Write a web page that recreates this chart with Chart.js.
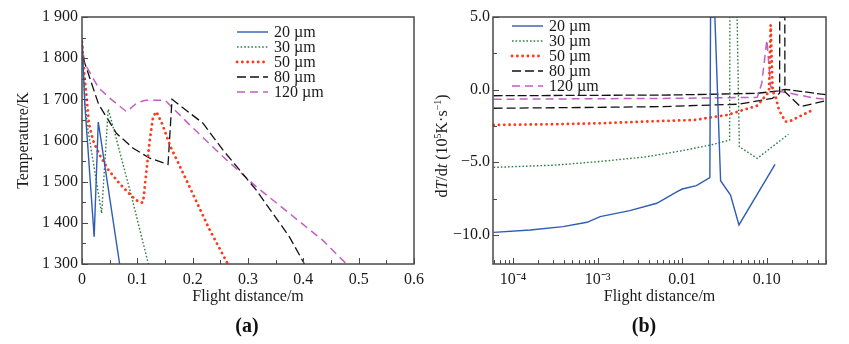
<!DOCTYPE html>
<html><head><meta charset="utf-8">
<script src="https://cdn.jsdelivr.net/npm/chart.js@4"></script>
<style>
html,body{margin:0;padding:0;background:#fff;}
#wrap{position:relative;width:849px;height:344px;overflow:hidden;background:#fff;}
#chartA{position:absolute;left:0;top:0;}
#chartB{position:absolute;left:425px;top:0;}
.lab{position:absolute;top:312px;font:bold 20px 'Liberation Serif',serif;width:60px;text-align:center;line-height:26px;color:#111;}
</style></head><body>
<div id="wrap">
<canvas id="chartA" width="430" height="344"></canvas>
<canvas id="chartB" width="424" height="344"></canvas>
<div class="lab" style="left:217px">(a)</div>
<div class="lab" style="left:614px">(b)</div>
</div>
<script>
// ---------- names ----------
const seriesNames = ['20 µm', '30 µm', '50 µm', '80 µm', '120 µm'];

// ---------- panel (a): temperature vs flight distance ----------
const aX20 = [0, 0.005, 0.022, 0.0294, 0.068];
const aT20 = [1845, 1690, 1366, 1645, 1300];
const aX30 = [0, 0.0054, 0.0108, 0.0355, 0.0474, 0.0595, 0.0895, 0.12];
const aT30 = [1830, 1691, 1626, 1423, 1676, 1617, 1464, 1300];
const aX50 = [0, 0.0042, 0.0084, 0.0126, 0.02, 0.03, 0.047, 0.065, 0.083, 0.098, 0.108, 0.1105, 0.1166, 0.1225, 0.1285, 0.1345, 0.145, 0.16, 0.19, 0.23, 0.2636];
const aT50 = [1840, 1760, 1703, 1640, 1600, 1570, 1530, 1500, 1474, 1455, 1449, 1451, 1528, 1601, 1658, 1670, 1640, 1585, 1500, 1385, 1300];
const aX80 = [0.002, 0.03, 0.0625, 0.0925, 0.1225, 0.1555, 0.1627, 0.2186, 0.2546, 0.3147, 0.3748, 0.402];
const aT80 = [1800, 1688, 1617, 1581, 1557, 1542, 1700, 1642, 1577, 1480, 1366, 1300];
const aX120 = [0, 0.004, 0.01, 0.03, 0.05, 0.0805, 0.1, 0.115, 0.15, 0.1946, 0.2546, 0.3147, 0.3748, 0.4348, 0.478];
const aT120 = [1840, 1792, 1775, 1728, 1703, 1670, 1692, 1698, 1698, 1638, 1561, 1488, 1423, 1358, 1300];

const aXTicks = [0, 0.1, 0.2, 0.3, 0.4, 0.5, 0.6];
const aXTickLabels = ['0', '0.1', '0.2', '0.3', '0.4', '0.5', '0.6'];
const aXMinor = [0.05, 0.15, 0.25, 0.35, 0.45, 0.55];
const aYTicks = [1300, 1400, 1500, 1600, 1700, 1800, 1900];
const aYTickLabels = ['1 300', '1 400', '1 500', '1 600', '1 700', '1 800', '1 900'];
const aYMinor = [1350, 1450, 1550, 1650, 1750, 1850];

// ---------- panel (b): cooling rate vs flight distance (log x) ----------
const bX20 = [5.9e-5, 1.6e-4, 3.9e-4, 7.5e-4, 1.07e-3, 2.4e-3, 5.0e-3, 8.7e-3, 0.01, 0.0147, 0.0212, 0.0216, 0.0243, 0.0284, 0.0372, 0.0468, 0.125];
const bR20 = [-9.82, -9.66, -9.43, -9.13, -8.74, -8.33, -7.82, -7.02, -6.84, -6.61, -6.06, 5, 5, -6.27, -7.25, -9.31, -5.14];
const bX30 = [5.9e-5, 3e-4, 1e-3, 3.8e-3, 0.01, 0.0216, 0.0363, 0.0366, 0.0445, 0.0473, 0.077, 0.18];
const bR30 = [-5.35, -5.2, -4.96, -4.62, -4.2, -3.81, -3.47, 5, 5, -3.93, -4.73, -3.07];
const bX50 = [5.9e-5, 3e-4, 1e-3, 5.5e-3, 0.0137, 0.034, 0.077, 0.106, 0.111, 0.117, 0.127, 0.139, 0.166, 0.183, 0.346];
const bR50 = [-2.43, -2.38, -2.32, -2.16, -2.09, -1.74, -1.1, -0.14, 4.45, -0.1, -0.49, -1.4, -2.2, -2.2, -1.4];
const bX80 = [5.9e-5, 1e-3, 5.5e-3, 0.0468, 0.116, 0.1415, 0.142, 0.163, 0.1635, 0.25, 0.5];
const bR80 = [-1.28, -1.22, -1.17, -1.0, -0.6, -0.25, 5, 5, -0.14, -1.17, -0.76];
const bX120 = [5.9e-5, 7.3e-3, 0.077, 0.087, 0.1, 0.111, 0.136, 0.38, 0.5];
const bR120 = [-0.66, -0.6, -0.53, 0.44, 3.42, 0.2, -0.09, -0.6, -0.66];
const bXUpper = [5.9e-5, 7.3e-3, 0.077, 0.136, 0.165, 0.5];
const bRUpper = [-0.42, -0.37, -0.25, -0.09, 0.02, -0.35];

const bXTicks = [1e-4, 1e-3, 1e-2, 1e-1];
const bXTickLabels = ['10⁻⁴', '10⁻³', '0.01', '0.10'];
const bYTicks = [-10, -5, 0, 5];
const bYTickLabels = ['−10.0', '−5.0', '0.0', '5.0'];
const bYMinor = [-7.5, -2.5, 2.5];

// ---------- styles ----------
const FAMILY = "'Liberation Serif', 'Times New Roman', serif";
const TXT = '#1a1a1a';
const styles = [
  { borderColor: '#2f5cb4', borderWidth: 1.4, borderDash: [], borderCapStyle: 'butt' },
  { borderColor: '#2f7d45', borderWidth: 1.4, borderDash: [1.6, 2], borderCapStyle: 'butt' },
  { borderColor: '#ff3a1c', borderWidth: 2.8, borderDash: [0.1, 5.2], borderCapStyle: 'round' },
  { borderColor: '#111111', borderWidth: 1.3, borderDash: [9, 4], borderCapStyle: 'butt' },
  { borderColor: '#c25fc8', borderWidth: 1.5, borderDash: [8, 5], borderCapStyle: 'butt' }
];

function pts(xs, ys) { return xs.map((x, i) => ({ x: x, y: ys[i] })); }
function ds(label, xs, ys, st) {
  return Object.assign({ label: label, data: pts(xs, ys), pointRadius: 0, tension: 0, fill: false }, st);
}

// ---------- decoration plugin: frame, inward ticks, legend, rich title ----------
const decor = {
  id: 'decor',
  afterDatasetsDraw(chart, args, o) {
    const { ctx, chartArea: ca, scales } = chart;
    const xs = scales.x, ys = scales.y;
    ctx.save();
    ctx.strokeStyle = '#4a4a4a';
    ctx.lineWidth = 1;
    const tickX = (vals, len) => vals.forEach(v => {
      const p = Math.round(xs.getPixelForValue(v)) + 0.5;
      if (p < ca.left - 0.5 || p > ca.right + 0.5) return;
      ctx.beginPath(); ctx.moveTo(p, ca.bottom); ctx.lineTo(p, ca.bottom - len); ctx.stroke();
    });
    const tickY = (vals, len) => vals.forEach(v => {
      const p = Math.round(ys.getPixelForValue(v)) + 0.5;
      if (p < ca.top - 0.5 || p > ca.bottom + 0.5) return;
      ctx.beginPath(); ctx.moveTo(ca.left, p); ctx.lineTo(ca.left + len, p); ctx.stroke();
    });
    tickX(o.xMajor, 6); tickX(o.xMinor, 4);
    tickY(o.yMajor, 6); tickY(o.yMinor, 4);
    ctx.lineWidth = 1.5;
    ctx.strokeStyle = '#4a4a4a';
    ctx.strokeRect(ca.left, ca.top, ca.right - ca.left, ca.bottom - ca.top);

    // legend
    const L = o.legend;
    ctx.font = '16px ' + FAMILY;
    ctx.textBaseline = 'middle';
    ctx.textAlign = 'left';
    for (let i = 0; i < L.count; i++) {
      const d = chart.data.datasets[i];
      const y = L.y0 + i * L.row;
      ctx.save();
      ctx.strokeStyle = d.borderColor;
      ctx.lineWidth = d.borderWidth;
      ctx.setLineDash(d.borderDash || []);
      ctx.lineCap = d.borderCapStyle || 'butt';
      ctx.beginPath(); ctx.moveTo(L.x0, y); ctx.lineTo(L.x1, y); ctx.stroke();
      ctx.restore();
      ctx.fillStyle = TXT;
      ctx.fillText(d.label, L.tx, y + 1);
    }

    // rich rotated y title
    if (o.rich) {
      const R = o.rich, size = R.size;
      ctx.save();
      ctx.translate(R.cx, R.cy);
      ctx.rotate(-Math.PI / 2);
      ctx.textBaseline = 'alphabetic';
      ctx.textAlign = 'left';
      ctx.fillStyle = TXT;
      const fontOf = s => (s.i ? 'italic ' : '') + (s.sup ? Math.round(size * 0.62) : size) + 'px ' + FAMILY;
      let w = 0;
      R.segs.forEach(s => { ctx.font = fontOf(s); s.w = ctx.measureText(s.t).width; w += s.w; });
      let x = -w / 2;
      const base = size * 0.33;
      R.segs.forEach(s => {
        ctx.font = fontOf(s);
        ctx.fillText(s.t, x, s.sup ? base - size * 0.42 : base);
        x += s.w;
      });
      ctx.restore();
    }
    ctx.restore();
  }
};

const tickFont = { family: FAMILY, size: 16 };

// ---------- chart (a) ----------
new Chart(document.getElementById('chartA'), {
  type: 'line',
  data: {
    datasets: [
      ds(seriesNames[0], aX20, aT20, styles[0]),
      ds(seriesNames[1], aX30, aT30, styles[1]),
      ds(seriesNames[2], aX50, aT50, styles[2]),
      ds(seriesNames[3], aX80, aT80, styles[3]),
      ds(seriesNames[4], aX120, aT120, styles[4])
    ]
  },
  options: {
    responsive: false,
    animation: false,
    layout: { padding: { left: 0, right: 15, top: 17, bottom: 38 } },
    plugins: {
      legend: { display: false },
      tooltip: { enabled: false },
      decor: {
        xMajor: aXTicks, xMinor: aXMinor, yMajor: aYTicks, yMinor: aYMinor,
        legend: { count: 5, x0: 237, x1: 268, tx: 274, y0: 32, row: 15 }
      }
    },
    scales: {
      x: {
        type: 'linear', min: 0, max: 0.6,
        afterBuildTicks: s => { s.ticks = aXTicks.map(v => ({ value: v })); },
        afterFit: s => { s.height = 42; },
        ticks: { callback: (v, i) => aXTickLabels[i], font: tickFont, color: TXT, padding: 6, maxRotation: 0, autoSkip: false },
        grid: { display: false, drawTicks: false },
        border: { display: false },
        title: { display: true, text: 'Flight distance/m', font: tickFont, color: TXT, padding: { top: 0, bottom: 0 } }
      },
      y: {
        type: 'linear', min: 1300, max: 1900,
        afterBuildTicks: s => { s.ticks = aYTicks.map(v => ({ value: v })); },
        afterFit: s => { s.width = 82; },
        ticks: { callback: (v, i) => aYTickLabels[i], font: tickFont, color: TXT, padding: 4, autoSkip: false },
        grid: { display: false, drawTicks: false },
        border: { display: false },
        title: { display: true, text: 'Temperature/K', font: tickFont, color: TXT, padding: { top: 14, bottom: 0 } }
      }
    }
  },
  plugins: [decor]
});

// ---------- chart (b) ----------
const upperStyle = { borderColor: '#111111', borderWidth: 1.3, borderDash: [9, 3], borderCapStyle: 'butt' };
new Chart(document.getElementById('chartB'), {
  type: 'line',
  data: {
    datasets: [
      ds(seriesNames[0], bX20, bR20, styles[0]),
      ds(seriesNames[1], bX30, bR30, styles[1]),
      ds(seriesNames[2], bX50, bR50, styles[2]),
      ds(seriesNames[3], bX80, bR80, styles[3]),
      ds(seriesNames[4], bX120, bR120, styles[4]),
      ds('', bXUpper, bRUpper, upperStyle)
    ]
  },
  options: {
    responsive: false,
    animation: false,
    layout: { padding: { left: 0, right: 23, top: 17, bottom: 38 } },
    plugins: {
      legend: { display: false },
      tooltip: { enabled: false },
      decor: {
        xMajor: bXTicks,
        xMinor: (function () { const m = []; [1e-5, 1e-4, 1e-3, 1e-2, 1e-1].forEach(d => { for (let k = 2; k <= 9; k++) m.push(k * d); }); return m; })(),
        yMajor: bYTicks, yMinor: bYMinor,
        legend: { count: 5, x0: 87, x1: 118, tx: 124, y0: 26, row: 15 },
        rich: {
          cx: 17, cy: 146, size: 16,
          segs: [{ t: 'd' }, { t: 'T', i: true }, { t: '/d' }, { t: 't', i: true }, { t: ' (10' }, { t: '5', sup: true }, { t: 'K·s' }, { t: '−1', sup: true }, { t: ')' }]
        }
      }
    },
    scales: {
      x: {
        type: 'logarithmic', min: 5.8e-5, max: 0.5,
        afterBuildTicks: s => { s.ticks = bXTicks.map(v => ({ value: v })); },
        afterFit: s => { s.height = 42; },
        ticks: { callback: (v, i) => bXTickLabels[i], font: tickFont, color: TXT, padding: 6, maxRotation: 0, autoSkip: false },
        grid: { display: false, drawTicks: false },
        border: { display: false },
        title: { display: true, text: 'Flight distance/m', font: tickFont, color: TXT, padding: { top: 0, bottom: 0 } }
      },
      y: {
        type: 'linear', min: -12, max: 5,
        afterBuildTicks: s => { s.ticks = bYTicks.map(v => ({ value: v })); },
        afterFit: s => { s.width = 68; },
        ticks: { callback: (v, i) => bYTickLabels[i], font: tickFont, color: TXT, padding: 3, autoSkip: false },
        grid: { display: false, drawTicks: false },
        border: { display: false },
        title: { display: false }
      }
    }
  },
  plugins: [decor]
});
</script>
</body></html>
